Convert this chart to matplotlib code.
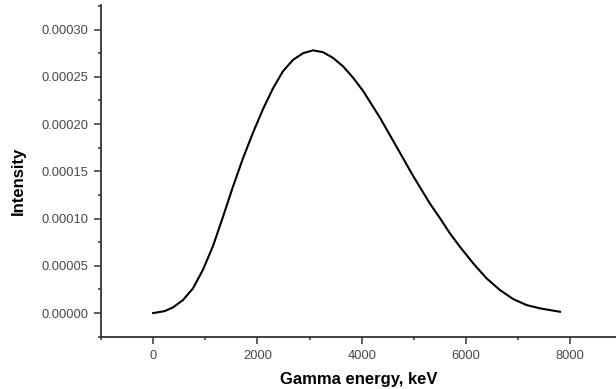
import matplotlib
matplotlib.use("Agg")
import matplotlib.pyplot as plt
from matplotlib.ticker import MultipleLocator, FormatStrFormatter

# Data
energy_kev = [0, 221, 380, 572, 764, 956, 1148, 1340, 1532, 1724, 1916,
              2108, 2300, 2491, 2684, 2876, 3067, 3259, 3451, 3643, 3835,
              4027, 4347, 4668, 4987, 5307, 5500, 5691, 5883, 6139, 6395,
              6651, 6906, 7162, 7418, 7802]
intensity = [0.0, 0.0000021, 0.000006, 0.0000138, 0.0000262, 0.0000460,
             0.0000710, 0.000102, 0.000134, 0.000164, 0.000191, 0.000216,
             0.000238, 0.000256, 0.000268, 0.000275, 0.000278, 0.000276,
             0.000270, 0.000261, 0.000249, 0.000235, 0.000207, 0.000176,
             0.000145, 0.000116, 0.0001005, 0.0000844, 0.0000702,
             0.0000526, 0.0000367, 0.0000244, 0.0000148, 0.0000085,
             0.000005, 0.0000014]

plt.rcParams['font.family'] = ['Liberation Sans', 'DejaVu Sans']

fig = plt.figure(figsize=(6.16, 3.89), dpi=100)
ax = fig.add_axes([0.164, 0.1344, 0.836, 0.8528])

ax.plot(energy_kev, intensity, color='black', lw=1.5, solid_joinstyle='round')

ax.set_xlim(-1000, 8877)
ax.set_ylim(-0.000025, 0.000326)

ax.xaxis.set_major_locator(MultipleLocator(2000))
ax.xaxis.set_minor_locator(MultipleLocator(1000))
ax.yaxis.set_major_locator(MultipleLocator(0.00005))
ax.yaxis.set_minor_locator(MultipleLocator(0.000025))
ax.yaxis.set_major_formatter(FormatStrFormatter('%.5f'))

for side in ['top', 'right']:
    ax.spines[side].set_visible(False)
for side in ['left', 'bottom']:
    ax.spines[side].set_linewidth(1.3)
    ax.spines[side].set_color('#333333')

ax.tick_params(which='major', direction='out', length=4.8, width=1.1,
               color='#333333', labelsize=9.3, labelcolor='#484848')
ax.tick_params(which='minor', direction='out', length=2.4, width=1.1,
               color='#333333')
ax.tick_params(axis='y', pad=4)
ax.tick_params(axis='x', pad=5)

ax.set_xlabel('Gamma energy, keV', fontsize=12, fontweight='bold')
ax.set_ylabel('Intensity', fontsize=12, fontweight='bold')
ax.xaxis.set_label_coords(0.5, -0.105)
ax.yaxis.set_label_coords(-0.146, 0.47)

fig.savefig('out.png', dpi=100)
